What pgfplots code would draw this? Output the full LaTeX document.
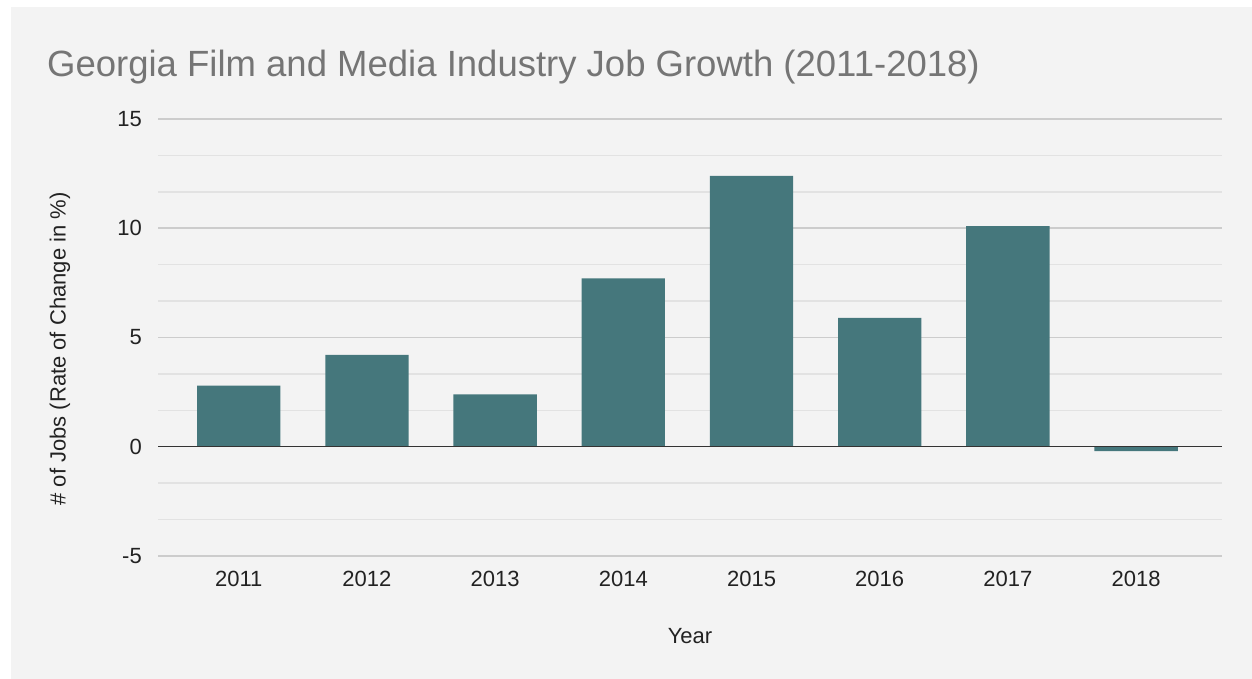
\documentclass[border=0pt]{standalone}
\usepackage{fontspec}
\setmainfont{Liberation Sans}
\usepackage{pgfplots}
\pgfplotsset{compat=1.18}

\definecolor{panel}{HTML}{F3F3F3}
\definecolor{barteal}{HTML}{45777C}
\definecolor{majgrid}{HTML}{CCCCCC}
\definecolor{mingrid}{HTML}{E2E2E2}
\definecolor{zeroline}{HTML}{333333}
\definecolor{titlegray}{HTML}{757575}
\definecolor{labelgray}{HTML}{222222}

\begin{document}
\begin{tikzpicture}[x=1pt,y=1pt]
\useasboundingbox (0,0) rectangle (1252,679);
\fill[white] (0,0) rectangle (1252,679);
\fill[panel] (11,0) rectangle (1252,672);

\node[anchor=base west, inner sep=0pt, text=titlegray,
      font=\fontsize{36.5}{42}\selectfont] at (47,602)
  {Georgia Film and Media Industry Job Growth (2011-2018)};

\begin{axis}[
    at={(158pt,123pt)}, anchor=south west,
    scale only axis,
    width=1064pt, height=437pt,
    xmin=-0.63, xmax=7.67,
    ymin=-5, ymax=15,
    xtick=data,
    xticklabels={2011,2012,2013,2014,2015,2016,2017,2018},
    ytick={-5,0,5,10,15},
    yticklabels={-5,0,5,10,15},
    minor y tick num=2,
    ymajorgrids, yminorgrids,
    major grid style={color=majgrid, line width=1.5pt},
    minor grid style={color=mingrid, line width=1.5pt},
    axis line style={draw=none},
    major tick length=0pt, minor tick length=0pt,
    tick style={draw=none},
    ticklabel style={font=\fontsize{22}{26}\selectfont, text=labelgray, inner sep=0pt},
    yticklabel style={anchor=east, xshift=-16pt},
    xticklabel style={anchor=north, yshift=-15pt},
    ybar, bar width=0.65,
]
\addplot[fill=barteal, draw=none] coordinates {
    (0,2.8) (1,4.2) (2,2.4) (3,7.7) (4,12.4) (5,5.9) (6,10.1) (7,-0.2)
};
\draw[color=zeroline, line width=1.5pt]
    ({rel axis cs:0,0} |- {axis cs:0,0}) -- ({rel axis cs:1,0} |- {axis cs:0,0});
\end{axis}

\node[rotate=90, text=labelgray, inner sep=0pt,
      font=\fontsize{22}{26}\selectfont] at (60,330)
  {\# of Jobs (Rate of Change in \%)};
\node[text=labelgray, inner sep=0pt,
      font=\fontsize{22}{26}\selectfont] at (690,43) {Year};
\end{tikzpicture}
\end{document}
